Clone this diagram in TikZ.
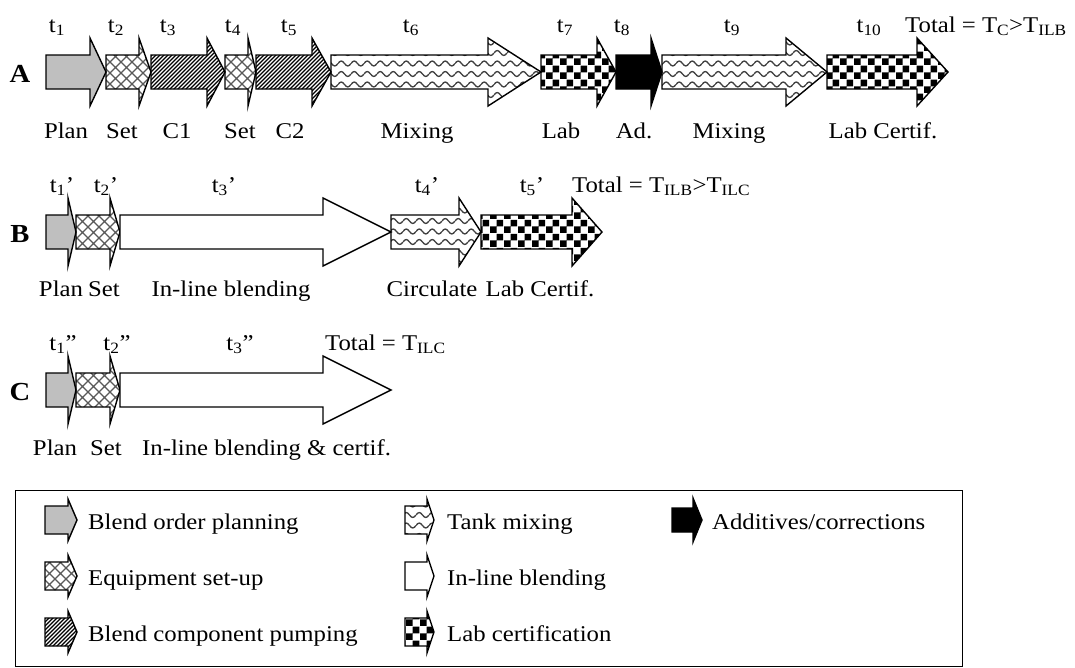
\documentclass[tikz,border=0pt]{standalone}
\usepackage{fontspec}
\setmainfont{Liberation Serif}[FakeStretch=1.1]
\usetikzlibrary{patterns}

\pgfdeclarepatternformonly{setgrid}{\pgfpoint{-1pt}{-1pt}}{\pgfpoint{12pt}{12pt}}{\pgfpoint{11pt}{11pt}}{
	\pgfsetlinewidth{1.1pt}
	\pgfpathmoveto{\pgfpoint{0pt}{0pt}}\pgfpathlineto{\pgfpoint{11pt}{11pt}}
	\pgfpathmoveto{\pgfpoint{0pt}{11pt}}\pgfpathlineto{\pgfpoint{11pt}{0pt}}
	\pgfusepath{stroke}}
\pgfdeclarepatternformonly{pumplines}{\pgfpoint{-1pt}{-1pt}}{\pgfpoint{5pt}{5pt}}{\pgfpoint{4pt}{4pt}}{
	\pgfsetlinewidth{1.2pt}
	\pgfpathmoveto{\pgfpoint{0pt}{0pt}}\pgfpathlineto{\pgfpoint{4.1pt}{4.1pt}}
	\pgfusepath{stroke}}
\pgfdeclarepatternformonly{tankwaves}{\pgfpoint{0pt}{-1pt}}{\pgfpoint{13pt}{11.5pt}}{\pgfpoint{13pt}{10.5pt}}{
	\pgfsetlinewidth{1.3pt}
	\pgfpathmoveto{\pgfpoint{0pt}{5pt}}
	\pgfpathsine{\pgfpoint{3.25pt}{2.5pt}}\pgfpathcosine{\pgfpoint{3.25pt}{-2.5pt}}
	\pgfpathsine{\pgfpoint{3.25pt}{-2.5pt}}\pgfpathcosine{\pgfpoint{3.25pt}{2.5pt}}
	\pgfusepath{stroke}}
\pgfdeclarepatternformonly{labchecks}{\pgfpointorigin}{\pgfpoint{14pt}{14pt}}{\pgfpoint{14pt}{14pt}}{
	\pgfpathrectangle{\pgfpoint{0pt}{0pt}}{\pgfpoint{7pt}{7pt}}
	\pgfpathrectangle{\pgfpoint{7pt}{7pt}}{\pgfpoint{7pt}{7pt}}
	\pgfusepath{fill}}

\tikzset{
	arr/.style={draw=black, line width=1.4pt, line join=miter},
	planfill/.style={fill=black!25},
	setfill/.style={pattern=setgrid, pattern color=black!65},
	pumpfill/.style={pattern=pumplines, pattern color=black},
	tankfill/.style={pattern=tankwaves, pattern color=black!75},
	linefill/.style={fill=white},
	labfill/.style={pattern=labchecks, pattern color=black},
	addfill/.style={fill=black},
	lbl/.style={font=\fontsize{22.5}{26}\selectfont, inner sep=0pt, anchor=base},
	rowtag/.style={font=\fontsize{26}{30}\selectfont\bfseries, inner sep=0pt}
}
% x0 : head start : tip, then centre : body half : head half
\def\steparrow[#1](#2:#3:#4)(#5:#6:#7){\draw[arr,#1] (#2,#5-#6) -- (#3,#5-#6) -- (#3,#5-#7) -- (#4,#5) -- (#3,#5+#7) -- (#3,#5+#6) -- (#2,#5+#6) -- cycle;}

\begin{document}
\begin{tikzpicture}[x=1pt,y=-1pt]
		%%%%% START %%%%%
		\fill[white] (0,0) rectangle (1075,667);
		\useasboundingbox (0,0) rectangle (1075,667);
		
		%% row A
		\node[rowtag] (rowA) at (20,74) {A};
		\steparrow[planfill](46:90:106)(72:17:34)
		\steparrow[setfill](106:139:151)(72:17:34)
		\steparrow[pumpfill](151:207:225)(72:17:34)
		\steparrow[setfill](225:248:256)(72:17:34)
		\steparrow[pumpfill](256:312:331)(72:17:34)
		\steparrow[tankfill](331:488:541)(72:17:34)
		\steparrow[labfill](541:597:616)(72:17:34)
		\steparrow[addfill](616:651:662)(72:17:34)
		\steparrow[tankfill](662:786:827)(72:17:34)
		\steparrow[labfill](827:917:948)(72:17:34)
		
		\node[lbl] (tA1) at (57,32) {t\textsubscript{1}};
		\node[lbl] (tA2) at (116,32) {t\textsubscript{2}};
		\node[lbl] (tA3) at (168,32) {t\textsubscript{3}};
		\node[lbl] (tA4) at (233,32) {t\textsubscript{4}};
		\node[lbl] (tA5) at (289,32) {t\textsubscript{5}};
		\node[lbl] (tA6) at (411,32) {t\textsubscript{6}};
		\node[lbl] (tA7) at (565,32) {t\textsubscript{7}};
		\node[lbl] (tA8) at (622,32) {t\textsubscript{8}};
		\node[lbl] (tA9) at (732,32) {t\textsubscript{9}};
		\node[lbl] (tA10) at (869,32) {t\textsubscript{10}};
		\node[lbl, anchor=base west] (totA) at (905,32) {Total = T\textsubscript{C}>T\textsubscript{ILB}};
		
		\node[lbl] (planA) at (66,138) {Plan};
		\node[lbl] (setA1) at (122,138) {Set};
		\node[lbl] (cA1) at (177,138) {C1};
		\node[lbl] (setA2) at (240,138) {Set};
		\node[lbl] (cA2) at (290,138) {C2};
		\node[lbl] (mixA1) at (417,138) {Mixing};
		\node[lbl] (labA) at (561,138) {Lab};
		\node[lbl] (adA) at (634,138) {Ad.};
		\node[lbl] (mixA2) at (729,138) {Mixing};
		\node[lbl] (certA) at (883,138) {Lab Certif.};
		
		%% row B
		\node[rowtag] (rowB) at (20,234) {B};
		\steparrow[planfill](46:68:76)(232:17:34)
		\steparrow[setfill](76:110:120)(232:17:34)
		\steparrow[linefill](120:323:391)(232:17:34)
		\steparrow[tankfill](391:459:481)(232:17:34)
		\steparrow[labfill](481:572:602)(232:17:34)
		
		\node[lbl] (tB1) at (62,192) {t\textsubscript{1}'};
		\node[lbl] (tB2) at (106,192) {t\textsubscript{2}'};
		\node[lbl] (tB3) at (224,192) {t\textsubscript{3}'};
		\node[lbl] (tB4) at (427,192) {t\textsubscript{4}'};
		\node[lbl] (tB5) at (532,192) {t\textsubscript{5}'};
		\node[lbl, anchor=base west] (totB) at (572,192) {Total = T\textsubscript{ILB}>T\textsubscript{ILC}};
		
		\node[lbl] (planB) at (61,296) {Plan};
		\node[lbl] (setB) at (104,296) {Set};
		\node[lbl] (lineB) at (231,296) {In-line blending};
		\node[lbl] (circB) at (432,296) {Circulate};
		\node[lbl] (certB) at (540,296) {Lab Certif.};
		
		%% row C
		\node[rowtag] (rowC) at (20,392) {C};
		\steparrow[planfill](46:68:76)(390:17:34)
		\steparrow[setfill](76:110:120)(390:17:34)
		\steparrow[linefill](120:323:391)(390:17:34)
		
		\node[lbl] (tC1) at (63,350) {t\textsubscript{1}''};
		\node[lbl] (tC2) at (117,350) {t\textsubscript{2}''};
		\node[lbl] (tC3) at (240,350) {t\textsubscript{3}''};
		\node[lbl, anchor=base west] (totC) at (325,350) {Total = T\textsubscript{ILC}};
		
		\node[lbl] (planC) at (55,455) {Plan};
		\node[lbl] (setC) at (106,455) {Set};
		\node[lbl, anchor=base west] (lineC) at (142,455) {In-line blending \& certif.};
		
		%% legend
		\draw[line width=1pt] (15,490) rectangle (962,666);
		\steparrow[planfill](45:68:77)(520:14:21)
		\steparrow[setfill](45:68:77)(576:14:21)
		\steparrow[pumpfill](45:68:77)(632:14:21)
		\steparrow[tankfill](405:427:434)(520:14:21)
		\steparrow[linefill](405:427:434)(576:14:21)
		\steparrow[labfill](405:427:434)(632:14:21)
		\steparrow[addfill](672:693:702)(520:12:22)
		
		\node[lbl, anchor=base west] (keyPlan) at (88,529) {Blend order planning};
		\node[lbl, anchor=base west] (keySet) at (88,585) {Equipment set-up};
		\node[lbl, anchor=base west] (keyPump) at (88,641) {Blend component pumping};
		\node[lbl, anchor=base west] (keyTank) at (447,529) {Tank mixing};
		\node[lbl, anchor=base west] (keyLine) at (447,585) {In-line blending};
		\node[lbl, anchor=base west] (keyLab) at (447,641) {Lab certification};
		\node[lbl, anchor=base west] (keyAdd) at (712,529) {Additives/corrections};
		
		%%%%% END %%%%%
	\end{tikzpicture}
\end{document}
